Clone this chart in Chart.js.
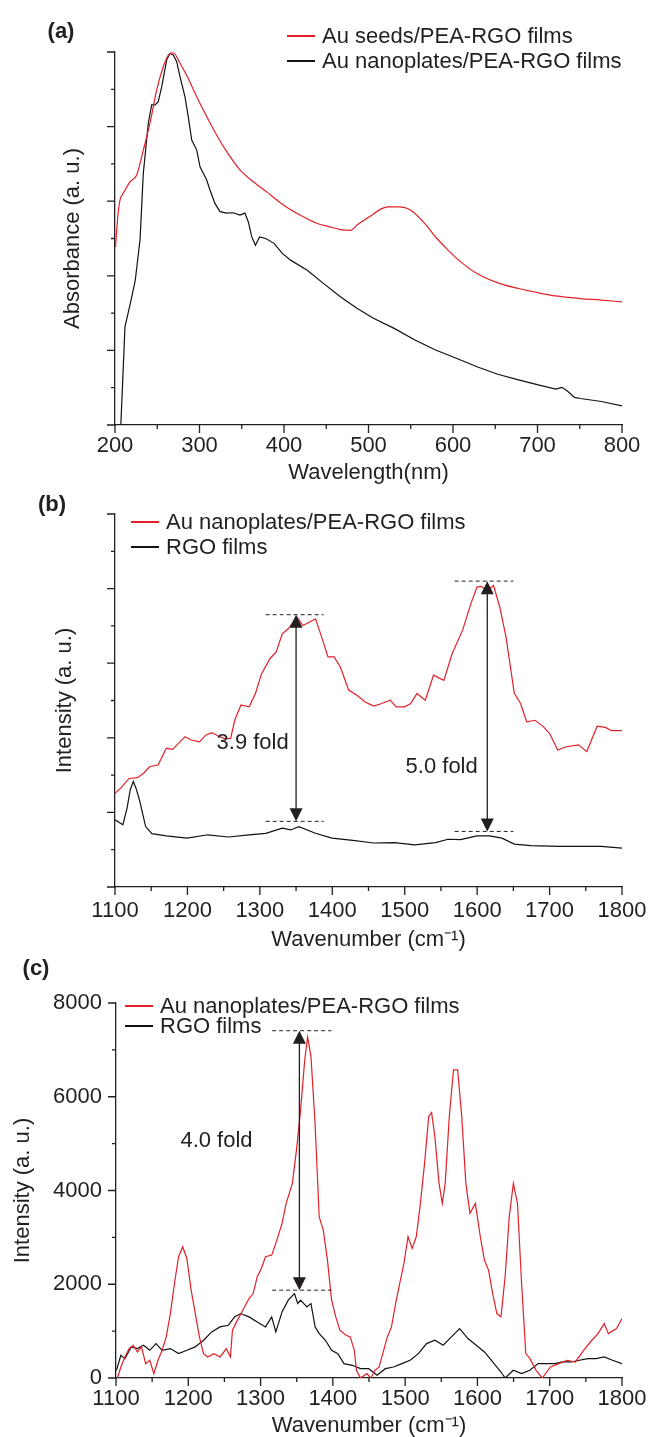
<!DOCTYPE html>
<html>
<head>
<meta charset="utf-8">
<script src="https://cdn.jsdelivr.net/npm/chart.js@4.4.1/dist/chart.umd.min.js"></script>
<style>
    body { margin: 0; background: #fff; width: 650px; height: 1437px; position: relative; overflow: hidden; }
    canvas { position: absolute; left: 0; }
</style>
</head>
<body>
<canvas id="chartA" width="650" height="495" style="top:0px"></canvas>
<canvas id="chartB" width="650" height="480" style="top:480px"></canvas>
<canvas id="chartC" width="650" height="487" style="top:950px"></canvas>
<script>
// ---------- (a) UV-vis absorbance ----------
let seedsWave = [200.6, 201.2, 203.5, 205.9, 209.8, 217.8, 225.7, 233.5, 241.4, 249.3, 257.2, 263.1, 269, 276.9, 286.7,
    296.7, 308.5, 320.4, 332.2, 347.9, 363.7, 379.5, 399.2, 418.9, 438.7, 453, 466.7, 478.9, 486.3, 501,
    515.7, 523, 535.3, 550, 564.7, 579.4, 594.1, 608.8, 628.4, 653, 677.5, 702, 721.6, 751, 775.5, 800];
let seedsAbs = [4.77, 4.96, 5.63, 6.03, 6.21, 6.52, 6.70, 7.37, 8.09, 8.98, 9.61, 9.92, 9.98, 9.70, 9.29,
    8.80, 8.27, 7.77, 7.33, 6.84, 6.52, 6.25, 5.90, 5.63, 5.41, 5.32, 5.24, 5.22, 5.36, 5.58,
    5.80, 5.85, 5.85, 5.76, 5.45, 5.04, 4.69, 4.38, 4.06, 3.81, 3.66, 3.54, 3.46, 3.39, 3.35, 3.30];
let platesWave = [206.9, 211.8, 219, 224, 229.6, 233.5, 239.4, 243.4, 247.3, 251.2, 255.3, 261.2, 265, 269, 273,
    276.9, 282.8, 286.7, 290.8, 296.7, 300.6, 304.5, 308.5, 312.4, 318.3, 324.3, 332.2, 340, 347.9, 353.8,
    357.7, 361.8, 366.2, 371.1, 378.4, 388.2, 398, 407.8, 427.5, 447, 466.7, 486.3, 505.9, 530.4, 554.9,
    579.4, 603.9, 628.4, 653, 677.5, 702, 721.6, 729, 736.4, 743.7, 751, 775.5, 800];
let platesAbs = [0, 2.63, 3.35, 3.88, 4.96, 6.75, 8.09, 8.58, 8.58, 8.67, 9.07, 9.79, 9.96, 9.92, 9.74,
    9.34, 8.8, 8.27, 7.64, 7.37, 6.92, 6.75, 6.57, 6.3, 5.94, 5.72, 5.68, 5.69, 5.63, 5.68,
    5.45, 5.05, 4.82, 5.04, 5.0, 4.87, 4.6, 4.42, 4.15, 3.79, 3.44, 3.13, 2.86, 2.59, 2.28,
    2.01, 1.79, 1.56, 1.36, 1.21, 1.07, 0.96, 1.01, 0.89, 0.74, 0.71, 0.63, 0.51];
let waveTicks = [200, 300, 400, 500, 600, 700, 800];

// ---------- (b) Raman, arbitrary intensity ----------
let nanoWaveB = [1100, 1108, 1119.4, 1130.9, 1139.5, 1148, 1159.5, 1170.9, 1179.5, 1196.7, 1205.2, 1216.7, 1225.2, 1233.8, 1242.4,
    1251, 1259.6, 1265.3, 1273.9, 1285.3, 1293.9, 1302.4, 1313.9, 1322.5, 1331, 1339.6, 1351, 1359.6, 1368.2, 1376.8,
    1385.4, 1394, 1402.5, 1411.1, 1422.6, 1434, 1445.4, 1456.9, 1468.3, 1479.8, 1488.3, 1499.8, 1508.3, 1516.9, 1528.4,
    1539.8, 1554.1, 1565.5, 1579.8, 1591.3, 1599.8, 1605.5, 1614.1, 1622.7, 1631.3, 1639.9, 1651.3, 1659.9, 1668.4, 1679.9,
    1691.3, 1699.9, 1711.3, 1722.8, 1740, 1751.4, 1765.7, 1777.1, 1785.7, 1800];
let nanoIntB = [2.51, 2.65, 2.91, 2.93, 3.05, 3.23, 3.27, 3.72, 3.69, 4.03, 3.94, 3.89, 4.07, 4.14, 4.05,
    3.98, 3.98, 4.47, 4.88, 4.83, 5.19, 5.72, 6.12, 6.30, 6.79, 6.93, 7.24, 7.01, 7.10, 7.19,
    6.70, 6.17, 6.17, 5.90, 5.28, 5.14, 4.96, 4.85, 4.92, 5.01, 4.83, 4.83, 4.92, 5.19, 5.01,
    5.68, 5.54, 6.26, 6.88, 7.59, 8.04, 8.06, 7.95, 8.08, 7.50, 6.70, 5.19, 4.92, 4.43, 4.47,
    4.30, 4.12, 3.67, 3.76, 3.81, 3.63, 4.31, 4.28, 4.19, 4.19];
let rgoWaveB = [1100, 1110.9, 1116.6, 1121, 1125.2, 1129, 1133.7, 1142.3, 1150.9, 1170.9, 1199.5, 1228.1, 1256.7, 1285.3, 1308.2,
    1331, 1342.5, 1353.9, 1376.8, 1399.7, 1428.3, 1456.9, 1485.5, 1514, 1542.7, 1559.8, 1577, 1599.8, 1617, 1634.2,
    1651.3, 1674.2, 1714.2, 1742.8, 1771.4, 1800];
let rgoIntB = [1.80, 1.67, 2.11, 2.6, 2.83, 2.65, 2.34, 1.62, 1.43, 1.37, 1.31, 1.40, 1.34, 1.40, 1.44,
    1.58, 1.53, 1.62, 1.44, 1.31, 1.25, 1.18, 1.19, 1.13, 1.19, 1.28, 1.27, 1.37, 1.37, 1.31,
    1.15, 1.11, 1.09, 1.09, 1.09, 1.04];

// ---------- (c) Raman, counts ----------
let nanoWaveC = [1102, 1106.7, 1112.4, 1118.1, 1123.9, 1129.6, 1135.3, 1141, 1146.7, 1152.4,
    1158.1, 1163.8, 1169.5, 1175.2, 1180.9, 1186.6, 1192.3, 1198, 1204, 1209.7,
    1215.4, 1221.1, 1226.8, 1235.4, 1244, 1252.6, 1258.3, 1261.1, 1266.8, 1275.4,
    1284, 1289.7, 1295.4, 1301.1, 1306.8, 1315.4, 1321.1, 1329.7, 1335.4, 1344,
    1349.7, 1355.4, 1361.1, 1365.1, 1369.7, 1375.4, 1381.1, 1386.8, 1392.5, 1398.3,
    1404, 1409.7, 1418.3, 1424, 1429.7, 1432.6, 1438.3, 1446.9, 1452.6, 1458.3,
    1464, 1469.7, 1475.4, 1481.1, 1486.8, 1492.5, 1498.3, 1504, 1509.7, 1515.4,
    1521.1, 1526.9, 1532.6, 1536.6, 1541.1, 1546.9, 1551.4, 1555.4, 1561.1, 1566.9,
    1572.6, 1578.3, 1584, 1589.7, 1597.1, 1604, 1609.7, 1615.4, 1621.1, 1626.9,
    1632.6, 1638.3, 1644, 1649.7, 1655.4, 1661.1, 1666.9, 1672.6, 1681.1, 1689.7,
    1701.1, 1712.6, 1724, 1735.4, 1746.9, 1758.3, 1766.9, 1775.4, 1781.1, 1792.5, 1800];
let nanoIntC = [0, 235, 449, 627, 698, 556, 663, 306, 378, 93,
    378, 591, 876, 1375, 2016, 2586, 2800, 2550, 1874, 1375,
    876, 520, 449, 520, 449, 627, 449, 1019, 1197, 1446,
    1695, 1802, 2159, 2337, 2586, 2622, 2871, 3298, 3726, 4153,
    4866, 5720, 6789, 7274, 6860, 5436, 3441, 3156, 2515, 1660,
    1304, 1019, 912, 876, 591, 164, 0, 93, 0, 164,
    235, 556, 876, 1090, 1589, 2016, 2444, 3013, 2764, 3013,
    3726, 4581, 5578, 5664, 5151, 4153, 3726, 4153, 5578, 6575,
    6575, 5578, 4153, 3512, 3726, 3013, 2515, 2301, 1802, 1375,
    1304, 2159, 3441, 4153, 3726, 2016, 520, 413, 164, 0,
    235, 306, 378, 342, 591, 805, 947, 1161, 947, 1054, 1268];
let rgoWaveC = [1100.6, 1106.7, 1112.4, 1121, 1129.6, 1138.1, 1146.7, 1155.3, 1163.8, 1175.2,
    1186.6, 1198, 1209.5, 1221.1, 1232.5, 1243.9, 1255.4, 1264, 1272.5, 1284,
    1295.4, 1306.8, 1315.4, 1321.1, 1329.7, 1338.3, 1346.9, 1351.4, 1355.4, 1364,
    1369.7, 1375.4, 1381.1, 1389.7, 1398.3, 1406.9, 1415.4, 1426.9, 1438.3, 1449.7,
    1461.1, 1472.6, 1484, 1495.4, 1506.9, 1518.3, 1529.7, 1541.1, 1552.6, 1564,
    1575.4, 1586.9, 1598.3, 1609.7, 1621.1, 1632.6, 1638.3, 1649.7, 1661.1, 1672.6,
    1684, 1695.4, 1706.9, 1718.3, 1729.7, 1741.1, 1752.6, 1764, 1775.4, 1786.9, 1800];
let rgoIntC = [164, 484, 413, 663, 627, 698, 591, 734, 591, 627,
    520, 591, 663, 805, 983, 1090, 1126, 1304, 1375, 1304,
    1197, 1090, 1304, 983, 1411, 1660, 1802, 1589, 1660, 1517,
    1589, 1090, 947, 805, 591, 520, 306, 271, 199, 199,
    57, 199, 235, 306, 378, 520, 734, 805, 698, 876,
    1054, 841, 698, 556, 342, 128, 0, 164, 93, 164,
    306, 306, 306, 342, 342, 378, 413, 413, 449, 378, 306];
let ramanTicks = [1100, 1200, 1300, 1400, 1500, 1600, 1700, 1800];
let countTicks = [0, 2000, 4000, 6000, 8000];
let arbTicks = [0, 2, 4, 6, 8, 10];

// fold-enhancement markers: x of arrow, top/bottom level, dashed line span
let foldsB = [
    { x: 1350, top: 7.30, bottom: 1.76, from: 1308, to: 1388, text: '3.9 fold', tx: 1290, ty: 3.85 },
    { x: 1614, top: 8.20, bottom: 1.49, from: 1569, to: 1650, text: '5.0 fold', tx: 1551, ty: 3.21 }
];
let foldsC = [
    { x: 1353.7, top: 7409, bottom: 1874, from: 1316, to: 1398, text: '4.0 fold', tx: 1239, ty: 5065 }
];

const FONT = '"Liberation Sans", Arial, Helvetica, sans-serif';
const INK = '#231f20';
const RED = '#e3202a';

const toPoints = (xs, ys) => xs.map((x, i) => ({ x: x, y: ys[i] }));
const halfway = (arr) => arr.slice(1).map((v, i) => (v + arr[i]) / 2);

// axis tick marks, panel letter, legend and arrows
const decor = {
    id: 'decor',
    afterDraw(chart, args, o) {
        let ctx = chart.ctx, xs = chart.scales.x, ys = chart.scales.y, area = chart.chartArea;
        ctx.save();
        ctx.strokeStyle = INK;
        ctx.lineWidth = 1.3;
        ctx.beginPath();
        o.xMajor.forEach(v => { let p = xs.getPixelForValue(v); ctx.moveTo(p, area.bottom); ctx.lineTo(p, area.bottom + 8); });
        halfway(o.xMajor).forEach(v => { let p = xs.getPixelForValue(v); ctx.moveTo(p, area.bottom); ctx.lineTo(p, area.bottom + 4); });
        o.yMajor.forEach(v => { let p = ys.getPixelForValue(v); ctx.moveTo(area.left, p); ctx.lineTo(area.left - 8, p); });
        halfway(o.yMajor).forEach(v => { let p = ys.getPixelForValue(v); ctx.moveTo(area.left, p); ctx.lineTo(area.left - 4, p); });
        ctx.stroke();

        ctx.fillStyle = INK;
        ctx.textAlign = 'center';
        ctx.textBaseline = 'middle';
        ctx.font = 'bold 22px ' + FONT;
        ctx.fillText(o.letter[0], o.letter[1], o.letter[2]);

        ctx.font = '22px ' + FONT;
        ctx.textAlign = 'left';
        o.legend.forEach(l => {
            ctx.strokeStyle = l.color;
            ctx.lineWidth = 2;
            ctx.beginPath();
            ctx.moveTo(l.x, l.y);
            ctx.lineTo(l.x + 28, l.y);
            ctx.stroke();
            ctx.fillText(l.text, l.x + 35, l.y + 1);
        });

        (o.folds || []).forEach(f => {
            let ax = xs.getPixelForValue(f.x), ty = ys.getPixelForValue(f.top), by = ys.getPixelForValue(f.bottom);
            ctx.strokeStyle = INK;
            ctx.lineWidth = 1;
            ctx.setLineDash([4, 3]);
            ctx.beginPath();
            ctx.moveTo(xs.getPixelForValue(f.from), ty); ctx.lineTo(xs.getPixelForValue(f.to), ty);
            ctx.moveTo(xs.getPixelForValue(f.from), by); ctx.lineTo(xs.getPixelForValue(f.to), by);
            ctx.stroke();
            ctx.setLineDash([]);
            ctx.lineWidth = 1.3;
            ctx.beginPath();
            ctx.moveTo(ax, ty + 10); ctx.lineTo(ax, by - 10);
            ctx.stroke();
            ctx.beginPath();
            ctx.moveTo(ax, ty); ctx.lineTo(ax - 6.5, ty + 13); ctx.lineTo(ax + 6.5, ty + 13); ctx.closePath();
            ctx.moveTo(ax, by); ctx.lineTo(ax - 6.5, by - 13); ctx.lineTo(ax + 6.5, by - 13); ctx.closePath();
            ctx.fill();
            ctx.textAlign = 'center';
            ctx.fillText(f.text, xs.getPixelForValue(f.tx), ys.getPixelForValue(f.ty));
        });
        ctx.restore();
    }
};

function xAxis(min, max, tickList, title, labelPad, titlePad, height) {
    return {
        type: 'linear', min: min, max: max,
        grid: { display: false, drawTicks: false },
        border: { color: INK, width: 1.3 },
        afterBuildTicks: (s) => { s.ticks = tickList.map(v => ({ value: v })); },
        afterFit: (s) => { s.height = height; s.paddingLeft = 0; s.paddingRight = 0; },
        ticks: { autoSkip: false, maxRotation: 0, padding: labelPad, color: INK, font: { family: FONT, size: 22 },
            callback: (value) => String(value) },
        title: { display: true, text: title, color: INK, font: { family: FONT, size: 22, lineHeight: 1 }, padding: { top: 0, bottom: titlePad } }
    };
}

function yAxis(min, max, tickList, showLabels, title, titleGap, width) {
    return {
        min: min, max: max,
        grid: { display: false, drawTicks: false },
        border: { color: INK, width: 1.3 },
        afterBuildTicks: (s) => { s.ticks = tickList.map(v => ({ value: v })); },
        afterFit: (s) => { s.width = width; s.paddingTop = 0; s.paddingBottom = 0; },
        ticks: { display: showLabels, padding: 14, color: INK, font: { family: FONT, size: 22 },
            callback: (value) => String(value) },
        title: { display: true, text: title, color: INK, font: { family: FONT, size: 22, lineHeight: 1 }, padding: { top: titleGap, bottom: 0 } }
    };
}

function line(points, color, smooth) {
    return {
        data: points,
        borderColor: color,
        borderWidth: 1.2,
        pointRadius: 0,
        fill: false,
        tension: 0,
        cubicInterpolationMode: smooth ? 'monotone' : 'default'
    };
}

let chartA = new Chart(document.getElementById('chartA').getContext('2d'), {
    type: 'line',
    data: {
        datasets: [
            line(toPoints(seedsWave, seedsAbs), RED, true),
            line(toPoints(platesWave, platesAbs), '#111', false)
        ]
    },
    options: {
        responsive: false, animation: false, devicePixelRatio: 1,
        layout: { padding: { top: 52, right: 28, left: 0, bottom: 0 } },
        plugins: {
            legend: { display: false }, tooltip: { enabled: false },
            decor: {
                xMajor: waveTicks, yMajor: arbTicks, letter: ['(a)', 61, 32],
                legend: [
                    { text: 'Au seeds/PEA-RGO films', color: RED, x: 287, y: 36 },
                    { text: 'Au nanoplates/PEA-RGO films', color: '#111', x: 287, y: 61 }
                ]
            }
        },
        scales: {
            x: xAxis(200, 800, waveTicks, 'Wavelength(nm)', 8, 11, 70),
            y: yAxis(0, 10, arbTicks, false, 'Absorbance (a. u.)', 62, 115)
        }
    },
    plugins: [decor]
});

let chartB = new Chart(document.getElementById('chartB').getContext('2d'), {
    type: 'line',
    data: {
        datasets: [
            line(toPoints(nanoWaveB, nanoIntB), RED, false),
            line(toPoints(rgoWaveB, rgoIntB), '#111', false)
        ]
    },
    options: {
        responsive: false, animation: false, devicePixelRatio: 1,
        layout: { padding: { top: 34, right: 28, left: 0, bottom: 0 } },
        plugins: {
            legend: { display: false }, tooltip: { enabled: false },
            decor: {
                xMajor: ramanTicks, yMajor: arbTicks, letter: ['(b)', 52, 25], folds: foldsB,
                legend: [
                    { text: 'Au nanoplates/PEA-RGO films', color: RED, x: 131, y: 42 },
                    { text: 'RGO films', color: '#111', x: 131, y: 67 }
                ]
            }
        },
        scales: {
            x: xAxis(1100, 1800, ramanTicks, 'Wavenumber (cm\u207B\u00B9)', 10.5, 9, 73),
            y: yAxis(0, 10, arbTicks, false, 'Intensity (a. u.)', 54, 115)
        }
    },
    plugins: [decor]
});

let chartC = new Chart(document.getElementById('chartC').getContext('2d'), {
    type: 'line',
    data: {
        datasets: [
            line(toPoints(nanoWaveC, nanoIntC), RED, false),
            line(toPoints(rgoWaveC, rgoIntC), '#111', false)
        ]
    },
    options: {
        responsive: false, animation: false, devicePixelRatio: 1,
        layout: { padding: { top: 53, right: 28, left: 0, bottom: 0 } },
        plugins: {
            legend: { display: false }, tooltip: { enabled: false },
            decor: {
                xMajor: ramanTicks, yMajor: countTicks, letter: ['(c)', 36, 19], folds: foldsC,
                legend: [
                    { text: 'Au nanoplates/PEA-RGO films', color: RED, x: 125, y: 56 },
                    { text: 'RGO films', color: '#111', x: 125, y: 76 }
                ]
            }
        },
        scales: {
            x: xAxis(1100, 1800, ramanTicks, 'Wavenumber (cm\u207B\u00B9)', 7.4, 0, 59),
            y: yAxis(0, 8000, countTicks, true, 'Intensity (a. u.)', 12, 116)
        }
    },
    plugins: [decor]
});
</script>
</body>
</html>
